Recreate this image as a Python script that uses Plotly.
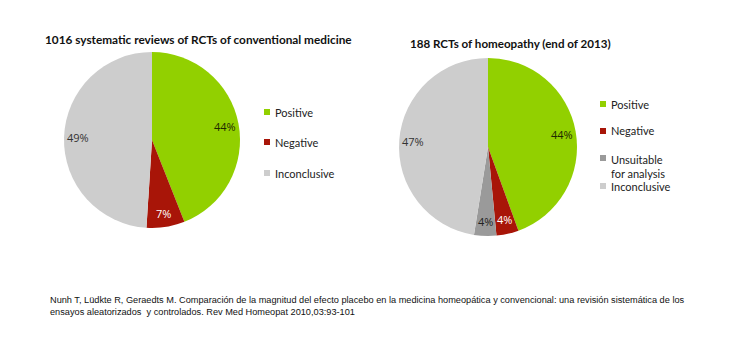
import math
import plotly.graph_objects as go

W, H = 730, 356

# Data
title1 = "1016 systematic reviews of RCTs of conventional medicine"
labels1 = ["Positive", "Negative", "Inconclusive"]
values1 = [44, 7, 49]

title2 = "188 RCTs of homeopathy (end of 2013)"
labels2 = ["Positive", "Negative", "Unsuitable<br>for analysis", "Inconclusive"]
values2 = [44, 4, 4, 47]

citation = ("Nunh T, Lüdkte R, Geraedts M. Comparación de la magnitud del efecto placebo en la medicina homeopática y convencional: una revisión sistemática de los<br>"
            "ensayos aleatorizados  y controlados. Rev Med Homeopat 2010,03:93-101")

colors = {"Positive": "#92d000", "Negative": "#a81508",
          "Unsuitable<br>for analysis": "#9a9a9a", "Inconclusive": "#cdcdcd"}
textcolors = {"Positive": "#1e2a00", "Negative": "#ffffff",
              "Unsuitable<br>for analysis": "#222222", "Inconclusive": "#333333"}

# pie geometry (pixels): center x, center y, radius
pie1_geo = (152, 140, 88)
pie2_geo = (488, 147, 89)


def domain(geo):
    cx, cy, r = geo
    return dict(x=[(cx - r) / W, (cx + r) / W], y=[1 - (cy + r) / H, 1 - (cy - r) / H])


fig = go.Figure()
for labels, values, geo in [(labels1, values1, pie1_geo), (labels2, values2, pie2_geo)]:
    fig.add_trace(go.Pie(
        labels=labels, values=values, sort=False, direction="clockwise", rotation=0,
        marker=dict(colors=[colors[l] for l in labels]),
        textinfo="none", domain=domain(geo), showlegend=False, hoverinfo="label+value",
    ))

ann = []
shapes = []

# percentage labels placed near the rim of each slice
for labels, values, geo in [(labels1, values1, pie1_geo), (labels2, values2, pie2_geo)]:
    cx, cy, r = geo
    tot = sum(values)
    cum = 0
    for lab, v in zip(labels, values):
        mid = (cum + v / 2) / tot * 2 * math.pi
        cum += v
        rr = 0.84 * r
        x = cx + rr * math.sin(mid)
        y = cy - rr * math.cos(mid)
        ann.append(dict(x=x / W, y=1 - y / H, xref="paper", yref="paper", text=f"{v}%",
                        showarrow=False, font=dict(family="Open Sans", size=11, color=textcolors[lab]),
                        xanchor="center", yanchor="middle"))

ann.append(dict(x=198 / W, y=1 - 39 / H, xref="paper", yref="paper", text="<b>" + title1 + "</b>",
                showarrow=False, font=dict(family="Lato", size=11.8, color="#111111"),
                xanchor="center", yanchor="middle"))
ann.append(dict(x=510 / W, y=1 - 44 / H, xref="paper", yref="paper", text="<b>" + title2 + "</b>",
                showarrow=False, font=dict(family="Lato", size=11.6, color="#111111"),
                xanchor="center", yanchor="middle"))

# Legends
leg1_y = [112, 142, 173]
for lab, yy in zip(labels1, leg1_y):
    shapes.append(dict(type="rect", xref="paper", yref="paper",
                       x0=264 / W, x1=270 / W, y0=1 - (yy + 3) / H, y1=1 - (yy - 3) / H,
                       fillcolor=colors[lab], line=dict(width=0)))
    ann.append(dict(x=273 / W, y=1 - yy / H, xref="paper", yref="paper", text=lab, showarrow=False,
                    font=dict(family="Lato", size=11, color="#222222"), xanchor="left", yanchor="middle"))

leg2_y = [104, 131, 158, 186]
for lab, yy in zip(labels2, leg2_y):
    shapes.append(dict(type="rect", xref="paper", yref="paper",
                       x0=600 / W, x1=606 / W, y0=1 - (yy + 3) / H, y1=1 - (yy - 3) / H,
                       fillcolor=colors[lab], line=dict(width=0)))
    multiline = "<br>" in lab
    ann.append(dict(x=609 / W, y=1 - (yy - 7) / H if multiline else 1 - yy / H, xref="paper", yref="paper",
                    text=lab, showarrow=False, align="left",
                    font=dict(family="Lato", size=11, color="#222222"), xanchor="left",
                    yanchor="top" if multiline else "middle"))

ann.append(dict(x=48 / W, y=1 - 293 / H, xref="paper", yref="paper", text=citation, showarrow=False,
                align="left", font=dict(family="Liberation Sans", size=9.2, color="#111111"),
                xanchor="left", yanchor="top"))

fig.update_layout(width=W, height=H, margin=dict(l=0, r=0, t=0, b=0),
                  paper_bgcolor="white", plot_bgcolor="white",
                  annotations=ann, shapes=shapes)

fig.write_html("out.html", config={"displayModeBar": False},
               post_script="document.body.style.margin='0';")
